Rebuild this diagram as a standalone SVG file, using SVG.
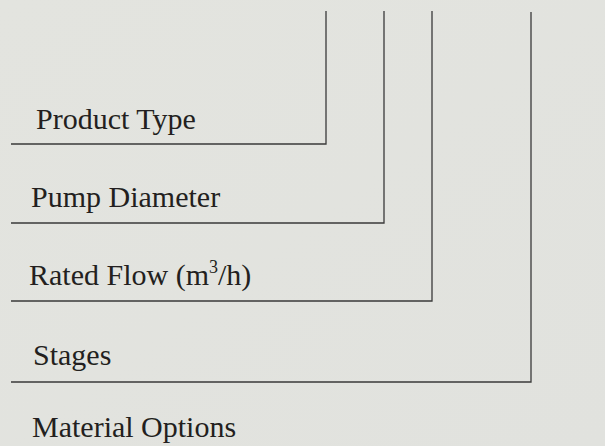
<svg xmlns="http://www.w3.org/2000/svg" width="605" height="446" viewBox="0 0 605 446">
<defs>
<linearGradient id="bg" x1="0" y1="0" x2="1" y2="1">
<stop offset="0" stop-color="#e3e4df"/>
<stop offset="1" stop-color="#e1e2de"/>
</linearGradient>
</defs>
<style>
.lbl{font-family:"Liberation Serif","Times New Roman",serif;font-size:30px;fill:#231f20}
.ln{fill:none;stroke:#3a3a3a;stroke-width:1.3}
.sup{font-size:18px}
</style>
<rect width="605" height="446" fill="url(#bg)"/>
<g id="connectors">
<polyline class="ln" points="11,144 326,144 326,11"/>
<polyline class="ln" points="11,223 384,223 384,11"/>
<polyline class="ln" points="11,301 432,301 432,11"/>
<polyline class="ln" points="11,382 531,382 531,12"/>
</g>
<g id="product-type"><text class="lbl" x="36" y="129">Product Type</text></g>
<g id="pump-diameter"><text class="lbl" x="31" y="207">Pump Diameter</text></g>
<g id="rated-flow"><text class="lbl" x="29" y="285">Rated Flow (m<tspan class="sup" dy="-12">3</tspan><tspan dy="12">/h)</tspan></text></g>
<g id="stages"><text class="lbl" x="33" y="365">Stages</text></g>
<g id="material-options"><text class="lbl" x="32" y="437">Material Options</text></g>
</svg>
